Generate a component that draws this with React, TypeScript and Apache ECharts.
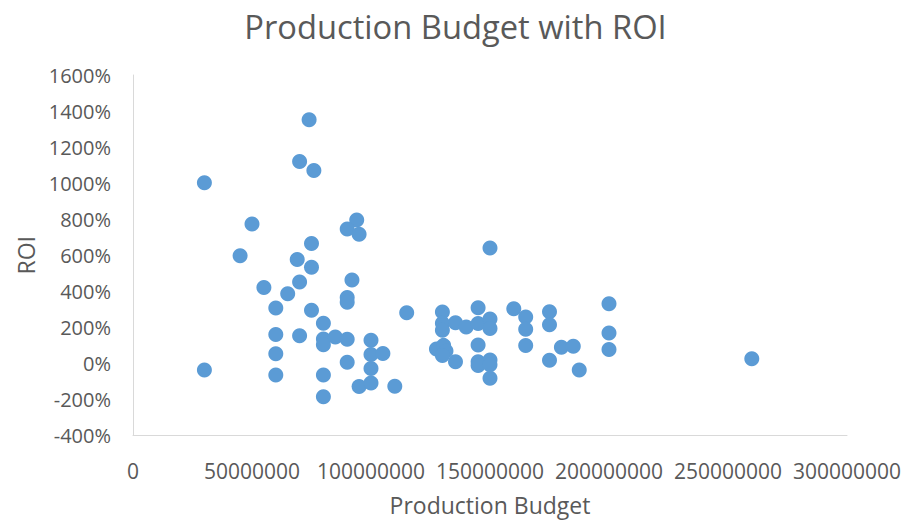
import React, { useEffect, useRef } from "react";
import * as echarts from "echarts";

// Production budget in millions of dollars
const budgetMillions: number[] = [
  74, 70, 76, 30, 50, 94, 90, 95, 75, 45,
  69, 75, 92, 55, 70, 65, 90, 90, 60, 75,
  80, 60, 70, 80, 80, 85, 90, 60, 90, 30,
  60, 80, 95, 80, 100, 100, 105, 100, 100, 110,
  115, 130, 130, 130, 135.5, 140, 145, 145, 150, 150,
  150, 127.5, 130.5, 131.5, 130, 135.5, 145, 145, 145, 150,
  150, 150, 160, 165, 165, 165, 175, 175, 175, 180,
  185, 187.5, 200, 200, 200, 260,
];

// Return on investment in percent
const roiPercent: number[] = [
  1352, 1120, 1070, 1002, 774, 796, 746, 717, 665, 597,
  577, 534, 463, 421, 451, 386, 366, 339, 308, 295,
  223, 160, 153, 135, 103, 146, 134, 54, 6, -37,
  -65, -65, -128, -185, 129, 50, 55, -28, -109, -127,
  281, 285, 223, 184, 226, 202, 309, 221, 246, 193,
  640, 80, 100, 69, 44, 9, 102, 9, -11, 19,
  -8, -83, 303, 258, 190, 99, 287, 215, 18, 89,
  95, -37, 331, 168, 77, 26,
];

const xTicks = { min: 0, max: 300000000, interval: 50000000 };
const yTicks = { min: -400, max: 1600, interval: 200 };

const titleText = "Production Budget with ROI";
const xName = "Production Budget";
const yName = "ROI";

export default function App() {
  const ref = useRef<HTMLDivElement>(null);
  useEffect(() => {
    document.body.style.margin = "0";
    if (!ref.current) return;
    const chart = echarts.init(ref.current, undefined, { renderer: "svg" });
    const data = budgetMillions.map((b, i) => [b * 1000000, roiPercent[i]]);
    const font = "'Open Sans', sans-serif";
    chart.setOption({
      animation: false,
      backgroundColor: "#ffffff",
      title: {
        text: titleText,
        left: "center",
        top: 5,
        textStyle: {
          fontFamily: font,
          fontSize: 32.7,
          fontWeight: "normal",
          color: "#595959",
        },
      },
      grid: { left: 133, right: 64, top: 75, bottom: 91.5, containLabel: false },
      xAxis: {
        type: "value",
        min: xTicks.min,
        max: xTicks.max,
        interval: xTicks.interval,
        name: xName,
        nameLocation: "middle",
        nameGap: 58,
        nameTextStyle: { fontFamily: font, fontSize: 23, color: "#595959" },
        axisLine: { show: true, onZero: false, lineStyle: { color: "#D9D9D9", width: 1 } },
        axisTick: { show: false },
        splitLine: { show: false },
        axisLabel: {
          fontFamily: font,
          fontSize: 21,
          color: "#595959",
          margin: 25,
          formatter: (v: number) => String(v),
        },
      },
      yAxis: {
        type: "value",
        min: yTicks.min,
        max: yTicks.max,
        interval: yTicks.interval,
        name: yName,
        nameLocation: "middle",
        nameGap: 87,
        nameRotate: 90,
        nameTextStyle: { fontFamily: font, fontSize: 23, color: "#595959" },
        axisLine: { show: true, onZero: false, lineStyle: { color: "#D9D9D9", width: 1 } },
        axisTick: { show: false },
        splitLine: { show: false },
        axisLabel: {
          fontFamily: font,
          fontSize: 20,
          color: "#595959",
          margin: 22,
          formatter: (v: number) => `${v}%`,
        },
      },
      series: [
        {
          type: "scatter",
          data,
          symbol: "circle",
          symbolSize: 15,
          itemStyle: { color: "#5B9BD5", opacity: 1 },
        },
      ],
    });
    return () => chart.dispose();
  }, []);
  return <div ref={ref} style={{ width: 911, height: 527 }} />;
}
